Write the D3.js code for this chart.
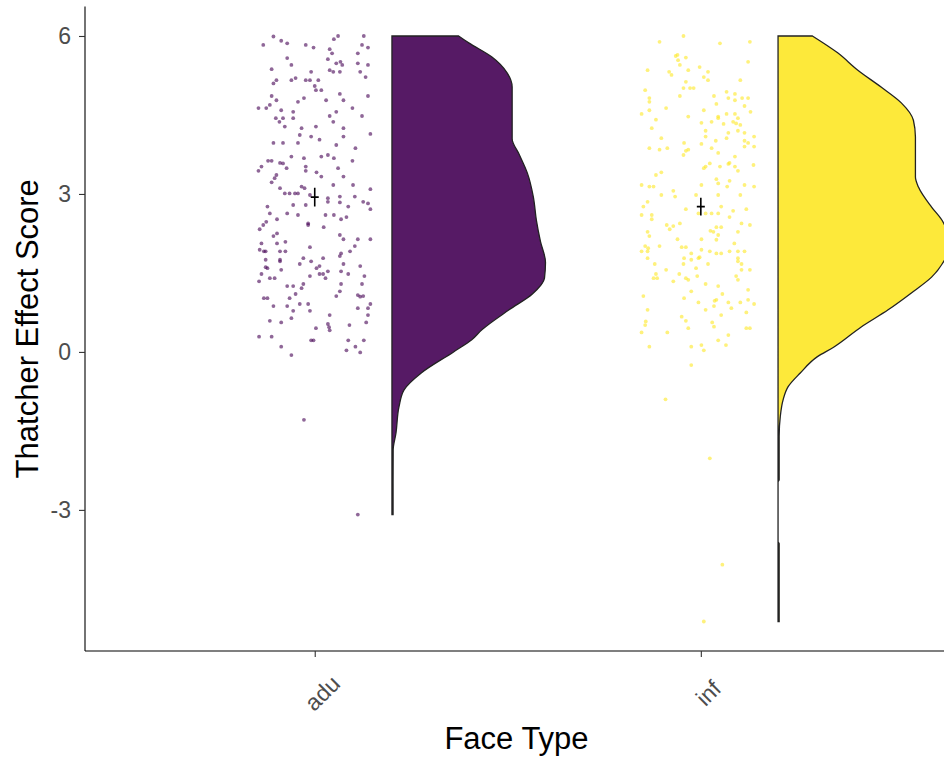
<!DOCTYPE html>
<html>
<head>
<meta charset="utf-8">
<script src="https://cdn.jsdelivr.net/npm/d3@7"></script>
<style>
  body { margin: 0; background: #fff; }
  svg { display: block; }
</style>
</head>
<body>
<svg id="chart" width="944" height="763"></svg>
<script>
// ---- data -------------------------------------------------------------
const categories = ["adu", "inf"];
const yTicks = [-3, 0, 3, 6];

// raw scores per face type: [score, horizontal jitter (-1..1)]
const aduPoints = [
  [5.99,-0.69],[5.83,-0.86],[5.91,-0.56],[5.86,-0.46],[5.83,-0.15],[5.78,-0.02],[5.94,0.32],[6.00,0.39],
  [6.00,0.82],[5.83,0.79],[5.78,0.89],[5.75,0.25],[5.67,0.29],[5.67,0.72],[5.58,-0.46],[5.45,-0.39],
  [5.56,0.22],[5.48,0.36],[5.51,0.43],[5.45,0.46],[5.48,0.72],[5.45,0.89],[5.35,0.25],[5.32,0.31],
  [5.32,0.42],[5.37,-0.72],[5.32,-0.06],[5.32,0.76],[5.22,0.85],[5.16,-0.64],[5.10,-0.69],[5.16,-0.39],
  [5.20,-0.32],[5.16,-0.15],[5.16,-0.08],[5.16,0.06],[5.05,0.00],[4.97,0.02],[4.97,0.11],[4.90,0.42],
  [4.86,0.89],[4.86,-0.72],[4.78,-0.64],[4.78,0.19],[4.82,-0.18],[4.75,-0.28],[4.78,0.48],[4.69,-0.75],
  [4.63,-0.81],[4.63,-0.94],[4.59,-0.56],[4.56,-0.36],[4.56,0.36],[4.63,0.63],[4.48,0.25],[4.37,0.31],
  [4.48,0.79],[4.44,-0.65],[4.44,-0.53],[4.44,-0.36],[4.37,-0.59],[4.28,-0.50],[4.25,-0.22],[4.28,0.02],
  [4.25,0.48],[4.12,-0.25],[4.09,-0.06],[4.09,0.48],[4.03,0.08],[4.14,0.93],[3.97,-0.69],[3.97,-0.53],
  [3.97,-0.28],[3.93,0.36],[3.87,0.68],[3.63,-0.78],[3.63,-0.72],[3.59,-0.58],[3.58,-0.53],[3.49,-0.47],
  [3.71,-0.39],[3.68,-0.18],[3.52,-0.15],[3.44,-0.15],[3.52,-0.89],[3.44,-0.94],[3.71,0.11],[3.74,0.22],
  [3.68,0.32],[3.63,0.63],[3.49,0.39],[3.41,0.03],[3.33,0.11],[3.36,-0.64],[3.30,-0.67],[3.22,-0.72],
  [3.33,0.48],[3.11,-0.58],[3.01,-0.50],[3.01,-0.42],[3.01,-0.33],[3.01,-0.28],[3.14,-0.22],[3.11,-0.17],
  [2.98,-0.08],[3.17,0.31],[3.17,0.64],[3.09,0.93],[2.95,0.42],[2.95,0.67],[2.92,0.22],
  [2.76,-0.79],[2.79,-0.36],[2.79,-0.15],[2.85,0.22],[2.84,0.42],[2.76,0.56],[2.85,0.81],[2.82,0.89],
  [2.71,0.93],[2.63,-0.75],[2.63,-0.46],[2.60,-0.28],[2.60,0.18],[2.60,0.32],[2.52,0.44],[2.56,0.53],
  [2.47,-0.81],[2.52,-0.63],[2.41,-0.86],[2.33,-0.92],[2.44,-0.11],[2.41,-0.11],[2.37,0.15],[2.20,-0.69],
  [2.25,-0.63],[2.22,0.42],[2.14,0.48],[2.14,0.72],[2.14,0.93],[2.06,-0.89],[2.06,-0.63],[2.09,-0.49],
  [2.01,0.67],[1.99,-0.08],[1.94,-0.92],[1.91,-0.85],[1.91,-0.82],[1.91,-0.58],[1.91,-0.49],[1.82,0.42],
  [1.87,0.44],[1.91,0.59],[1.75,-0.82],[1.75,-0.58],[1.72,-0.58],[1.78,-0.19],[1.72,-0.06],[1.78,0.14],
  [1.63,0.08],[1.59,0.03],[1.67,-0.25],[1.67,0.48],[1.63,0.76],[1.61,-0.82],[1.59,-0.79],[1.56,-0.56],
  [1.48,-0.89],[1.48,0.08],[1.48,0.14],[1.53,0.22],[1.53,0.44],[1.48,0.56],[1.40,0.18],[1.44,-0.08],
  [1.40,-0.75],[1.40,-0.67],[1.44,0.83],[1.34,-0.93],[1.29,0.44],[1.29,0.79],[1.29,-0.19],[1.21,-0.22],
  [1.25,-0.46],[1.25,-0.36],[1.15,0.42],[1.06,0.36],[1.10,-0.32],[1.02,-0.42],[1.02,-0.85],[1.02,-0.79],
  [1.08,0.72],[1.05,0.76],[1.06,0.81],[0.87,-0.69],[0.87,-0.46],[0.78,-0.36],[0.91,-0.25],[0.91,-0.11],
  [0.78,-0.08],[0.83,0.72],[0.83,0.89],[0.91,0.93],[0.70,0.25],[0.70,0.89],[0.59,-0.75],[0.56,-0.56],
  [0.64,-0.39],[0.53,0.22],[0.47,0.24],[0.41,0.25],[0.45,0.02],[0.51,0.58],[0.56,0.86],[0.29,-0.93],
  [0.29,-0.72],[0.22,-0.06],[0.22,-0.02],[0.22,0.56],[0.22,0.82],[0.10,-0.56],[-0.06,-0.39],[0.03,0.53],
  [0.10,0.68],[-0.01,0.76],[-1.29,-0.18],[-3.09,0.72]
];

const infPoints = [
  [6.00,-0.29],[5.89,-0.69],[5.86,0.32],[5.89,0.82],[5.62,-0.42],[5.64,-0.39],[5.54,-0.38],[5.59,-0.25],
  [5.45,-0.35],[5.51,0.79],[5.35,-0.89],[5.32,-0.53],[5.26,-0.49],[5.35,-0.21],[5.41,-0.02],[5.32,0.12],
  [5.22,0.05],[5.16,0.12],[5.16,0.66],[5.13,-0.25],[5.01,-0.29],[5.01,-0.18],[5.01,-0.12],[4.97,-0.93],
  [4.82,-0.86],[4.75,-0.86],[4.86,-0.35],[4.94,0.43],[4.90,0.57],[4.82,0.46],[4.78,0.57],[4.82,0.69],
  [4.82,0.79],[4.71,0.26],[4.86,0.22],[4.59,-0.86],[4.63,-0.58],[4.59,0.05],[4.67,0.73],[4.56,0.83],
  [4.52,-0.99],[4.47,-0.21],[4.47,0.29],[4.44,0.29],[4.52,0.43],[4.52,0.57],[4.44,0.62],[4.41,-0.75],
  [4.35,0.01],[4.37,0.18],[4.37,0.54],[4.34,0.59],[4.31,0.66],[4.33,0.38],[4.25,-0.82],[4.20,0.08],
  [4.20,0.62],[4.16,0.73],[4.09,0.08],[4.16,0.46],[4.06,0.43],[4.09,0.89],[4.06,-0.66],[3.95,0.01],
  [4.01,0.25],[4.01,0.73],[3.97,0.79],[3.90,0.73],[3.90,0.89],[3.87,-0.86],[3.84,-0.69],[3.87,-0.56],
  [3.97,-0.28],[3.82,-0.25],[3.84,-0.21],[3.74,-0.29],[3.87,0.18],[3.78,0.29],[3.71,0.57],[3.52,0.08],
  [3.49,0.05],[3.58,0.15],[3.52,0.32],[3.57,0.46],[3.59,0.48],[3.52,0.57],[3.44,0.62],[3.55,0.88],
  [3.36,-0.75],[3.41,-0.66],[3.28,0.26],[3.20,0.29],[3.25,0.48],[3.14,0.44],[3.17,0.01],[3.17,0.73],
  [3.14,0.89],[3.17,-0.99],[3.14,-0.86],[3.14,-0.79],[3.06,-0.46],[2.98,-0.66],[2.95,-0.43],[2.98,-0.08],
  [2.98,0.29],[2.98,0.66],
  [2.85,-0.89],[2.76,-0.96],[2.60,-0.99],[2.60,-0.82],[2.52,-0.82],[2.71,-0.25],[2.63,-0.04],[2.63,0.08],
  [2.63,0.18],[2.63,0.29],[2.76,0.34],[2.56,0.48],[2.68,0.54],[2.71,0.76],[2.44,0.68],[2.41,0.82],
  [2.41,-0.57],[2.33,-0.52],[2.39,-0.46],[2.44,-0.35],[2.37,0.26],[2.37,0.34],[2.30,0.16],[2.28,0.21],
  [2.28,0.62],[2.28,-0.89],[2.20,-0.86],[2.22,0.29],[2.13,0.26],[2.14,0.01],[2.14,-0.39],[2.06,0.56],
  [2.01,-0.93],[1.97,-0.88],[1.91,-0.99],[1.91,-0.89],[2.01,-0.69],[1.99,-0.32],[1.99,-0.25],[1.94,0.01],
  [1.91,0.15],[1.87,0.26],[1.87,0.34],[1.91,0.48],[1.91,0.62],[1.91,0.73],[1.87,-0.16],[1.78,-0.89],
  [1.78,-0.28],[1.75,-0.16],[1.78,-0.04],[1.80,-0.02],[1.78,0.62],[1.72,0.62],[1.67,0.68],[1.56,0.68],
  [1.56,0.82],[1.67,-0.29],[1.67,0.12],[1.59,-0.08],[1.67,-0.77],[1.48,-0.75],[1.40,-0.79],[1.40,-0.73],
  [1.56,-0.58],[1.48,-0.36],[1.40,-0.25],[1.37,-0.21],[1.44,-0.06],[1.44,0.59],[1.37,0.62],[1.34,-0.46],
  [1.29,0.08],[1.25,0.29],[1.18,0.79],[1.15,-0.16],[1.06,-0.96],[1.02,-0.28],[0.94,-0.04],[0.99,0.26],
  [0.97,0.23],[1.10,0.36],[0.94,0.46],[0.94,0.66],[0.99,0.79],[0.91,0.89],[0.87,0.22],[0.80,0.08],
  [0.83,0.51],[0.80,-0.89],[0.70,0.34],[0.75,0.76],[0.67,-0.32],[0.59,-0.25],[0.58,-0.92],[0.51,-0.93],
  [0.56,0.19],[0.48,0.22],[0.45,-0.21],[0.45,0.76],[0.45,0.82],[0.37,-0.99],[0.37,-0.56],[0.32,0.46],
  [0.10,-0.86],[0.10,-0.16],[0.13,0.01],[0.03,0.05],[0.22,0.29],[0.13,0.42],[-0.25,-0.16],
  [-0.90,-0.59],[-2.02,0.15],[-4.04,0.36],[-5.12,0.05]
];

// kernel density estimates: [score, density]
const aduDensity = [
  [6.00,0.066],[5.87,0.076],[5.60,0.099],[5.30,0.114],[5.03,0.119],[4.50,0.119],[4.05,0.119],
  [3.75,0.126],[3.40,0.134],[2.94,0.140],[2.50,0.143],[2.10,0.147],[1.70,0.152],[1.40,0.151],
  [1.10,0.139],[0.80,0.116],[0.42,0.089],[0.23,0.079],[0.00,0.061],[-0.40,0.029],[-0.72,0.012],
  [-1.04,0.007],[-1.54,0.004],[-1.86,0.0012],[-2.50,0.0011],[-3.09,0.0011]
];
const infDensity = [
  [6.00,0.034],[5.68,0.059],[5.35,0.079],[5.03,0.102],[4.73,0.122],[4.40,0.134],[4.08,0.136],
  [3.32,0.136],[3.13,0.139],[2.75,0.152],[2.51,0.162],[2.37,0.166],[2.13,0.172],[1.75,0.165],
  [1.42,0.152],[1.12,0.132],[0.80,0.109],[0.47,0.082],[0.09,0.055],[-0.09,0.039],[-0.40,0.022],
  [-0.66,0.010],[-0.91,0.005],[-1.23,0.0022],[-1.60,0.0011],[-2.43,0.0011],[-2.47,0.0],
  [-3.60,0.0],[-3.64,0.0011],[-4.50,0.0011],[-5.12,0.0011]
];

// group mean with standard-error range
const meanScores = [2.94, 2.76];
const seLower = [2.76, 2.59];
const seUpper = [3.12, 2.93];

const pointColors = ["#440154", "#FDE725"];

// ---- layout -----------------------------------------------------------
const svg = d3.select("#chart");
const panel = { left: 85, right: 946, top: 6.5, bottom: 651 };
const font = "'Liberation Sans', Arial, Helvetica, sans-serif";

const x = d3.scaleLinear().domain([0.405, 2.635]).range([panel.left, panel.right]);
const y = d3.scaleLinear().domain([-5.68, 6.56]).range([panel.bottom, panel.top]);

const jitterWidth = 0.155;   // horizontal spread of raw points
const nudge = 0.2;           // violin offset from category centre
const violinHalf = 0.45;     // widest violin half-width

svg.append("defs").append("clipPath").attr("id", "panel-clip")
  .append("rect")
  .attr("x", panel.left).attr("y", panel.top)
  .attr("width", panel.right - panel.left).attr("height", panel.bottom - panel.top);

const plot = svg.append("g").attr("clip-path", "url(#panel-clip)");

// ---- half violins -----------------------------------------------------
const densities = [aduDensity, infDensity];
const maxDensity = d3.max(densities.flat(), d => d[1]);

densities.forEach((dens, i) => {
  const base = i + 1 + nudge;
  const area = d3.area()
    .curve(d3.curveMonotoneY)
    .y(d => y(d[0]))
    .x0(() => x(base))
    .x1(d => x(base + d[1] / maxDensity * violinHalf));
  plot.append("path")
    .datum(dens)
    .attr("d", area)
    .attr("fill", pointColors[i])
    .attr("fill-opacity", 0.9)
    .attr("stroke", "#222")
    .attr("stroke-width", 1.3);
});

// ---- raw points -------------------------------------------------------
[aduPoints, infPoints].forEach((pts, i) => {
  plot.append("g").selectAll("circle")
    .data(pts)
    .join("circle")
    .attr("cx", d => x(i + 1 + d[1] * jitterWidth))
    .attr("cy", d => y(d[0]))
    .attr("r", 1.9)
    .attr("fill", pointColors[i])
    .attr("fill-opacity", 0.6);
});

// ---- mean and standard error -----------------------------------------
categories.forEach((c, i) => {
  const cx = x(i + 1);
  const g = plot.append("g").attr("stroke", "#000").attr("stroke-width", 1.6);
  g.append("line")
    .attr("x1", cx).attr("x2", cx)
    .attr("y1", y(seLower[i])).attr("y2", y(seUpper[i]));
  g.append("line")
    .attr("x1", cx - 4).attr("x2", cx + 4)
    .attr("y1", y(meanScores[i])).attr("y2", y(meanScores[i]));
});

// ---- axes -------------------------------------------------------------
const yAxis = svg.append("g")
  .attr("transform", `translate(${panel.left},0)`)
  .call(d3.axisLeft(y).tickValues(yTicks).tickSize(6).tickPadding(8).tickFormat(d3.format("d")));
yAxis.select(".domain").attr("d", `M0,${panel.top}V${panel.bottom}`).attr("stroke", "#000").attr("stroke-width", 1.1);
yAxis.selectAll(".tick line").attr("stroke", "#333").attr("stroke-width", 1.1);
yAxis.selectAll(".tick text")
  .attr("fill", "#4d4d4d").attr("font-family", font).attr("font-size", 23)
  .text(d => d < 0 ? "-" + Math.abs(d) : d);

const xAxis = svg.append("g")
  .attr("transform", `translate(0,${panel.bottom})`)
  .call(d3.axisBottom(x).tickValues([1, 2]).tickSize(6).tickFormat(d => categories[d - 1]));
xAxis.select(".domain").attr("d", `M${panel.left},0H${panel.right}`).attr("stroke", "#000").attr("stroke-width", 1.1);
xAxis.selectAll(".tick line").attr("stroke", "#333").attr("stroke-width", 1.1);
xAxis.selectAll(".tick text")
  .attr("fill", "#4d4d4d").attr("font-family", font).attr("font-size", 23)
  .attr("text-anchor", "middle")
  .attr("dy", "0.35em")
  .attr("transform", "translate(7,42) rotate(-45)")
  .attr("y", 0);

// ---- axis titles ------------------------------------------------------
svg.append("text")
  .attr("x", (panel.left + panel.right) / 2 + 1).attr("y", 749)
  .attr("text-anchor", "middle")
  .attr("font-family", font).attr("font-size", 31).attr("fill", "#000")
  .text("Face Type");

svg.append("text")
  .attr("transform", `translate(38,${(panel.top + panel.bottom) / 2}) rotate(-90)`)
  .attr("text-anchor", "middle")
  .attr("font-family", font).attr("font-size", 31).attr("fill", "#000")
  .text("Thatcher Effect Score");
</script>
</body>
</html>
